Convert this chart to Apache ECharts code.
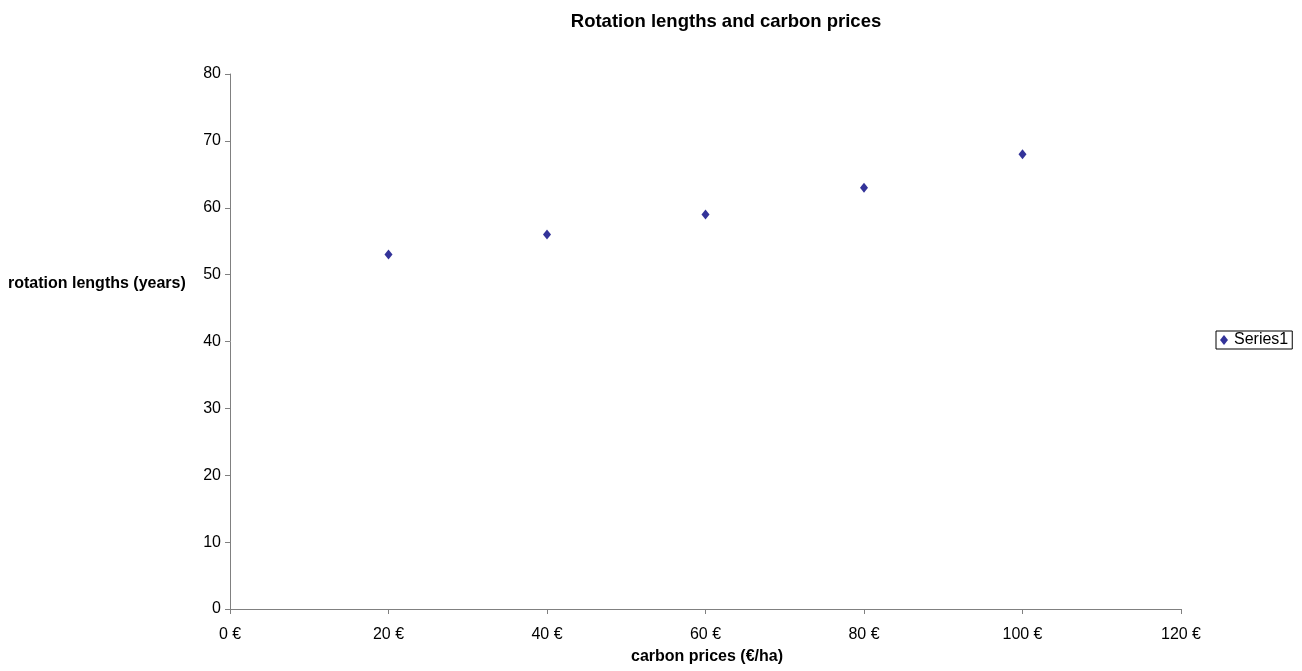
<!DOCTYPE html>
<html>
<head>
<meta charset="utf-8">
<script src="https://cdn.jsdelivr.net/npm/echarts@6/dist/echarts.min.js"></script>
<style>html,body{margin:0;padding:0;background:#fff;}#c{width:1302px;height:671px;}</style>
</head>
<body>
<div id="c"></div>
<script>
const carbonPrices = [20, 40, 60, 80, 100];
const rotationLengths = [53, 56, 59, 63, 68];
const seriesName = 'Series1';
const chartTitle = 'Rotation lengths and carbon prices';
const xAxisTitle = 'carbon prices (€/ha)';
const yAxisTitle = 'rotation lengths (years)';

const chart = echarts.init(document.getElementById('c'), null, {renderer: 'canvas'});
const font = 'Liberation Sans, Arial, sans-serif';
chart.setOption({
  animation: false,
  backgroundColor: '#fff',
  textStyle: {fontFamily: font},
  title: [
    {text: chartTitle, left: 726, top: 12, textAlign: 'center', padding: 0,
     textStyle: {fontSize: 18.5, fontWeight: 'bold', color: '#000', fontFamily: font}},
    {text: xAxisTitle, left: 707, top: 649, textAlign: 'center', padding: 0,
     textStyle: {fontSize: 16, fontWeight: 'bold', color: '#000', fontFamily: font}},
    {text: yAxisTitle, left: 8, top: 276, padding: 0,
     textStyle: {fontSize: 16, fontWeight: 'bold', color: '#000', fontFamily: font}}
  ],
  legend: {
    left: 1216, top: 331, orient: 'vertical',
    data: [seriesName],
    itemWidth: 8, itemHeight: 10, itemGap: 4,
    padding: [1, 4, 1, 4],
    borderColor: '#000', borderWidth: 1, borderRadius: 0,
    textStyle: {fontSize: 16, color: '#000', fontFamily: font, padding: [0, 0, 0, 1]}
  },
  grid: {left: 230, right: 121, top: 74, bottom: 62, containLabel: false},
  xAxis: {
    type: 'value', min: 0, max: 120, interval: 20,
    axisLine: {show: true, lineStyle: {color: '#808080', width: 1}},
    axisTick: {show: true, length: 5, inside: false, lineStyle: {color: '#808080'}},
    axisLabel: {fontSize: 16, color: '#000', margin: 18, formatter: v => v + ' €'},
    splitLine: {show: false}
  },
  yAxis: {
    type: 'value', min: 0, max: 80, interval: 10,
    axisLine: {show: true, lineStyle: {color: '#808080', width: 1}},
    axisTick: {show: true, length: 5, inside: false, lineStyle: {color: '#808080'}},
    axisLabel: {fontSize: 16, color: '#000', margin: 9},
    splitLine: {show: false}
  },
  series: [{
    name: seriesName,
    type: 'scatter',
    symbol: 'diamond',
    symbolSize: [8, 10],
    itemStyle: {color: '#000080'},
    data: carbonPrices.map((x, i) => [x, rotationLengths[i]])
  }]
});
</script>
</body>
</html>
